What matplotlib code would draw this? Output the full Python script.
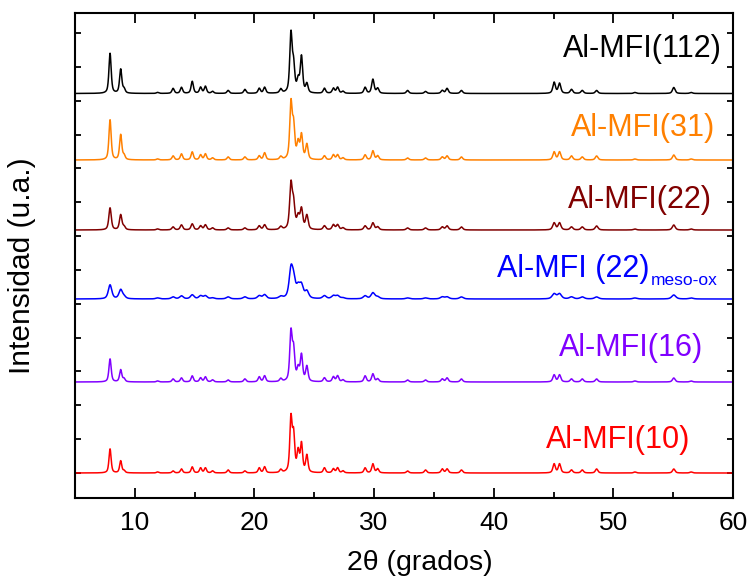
import numpy as np
import matplotlib
matplotlib.use("Agg")
import matplotlib.pyplot as plt
from matplotlib.ticker import MultipleLocator

plt.rcParams['font.family'] = ['Liberation Sans', 'DejaVu Sans']

# Reflection positions (2theta, degrees)
peak_pos = [7.93, 8.82, 9.1, 11.9, 13.2, 13.9, 14.8, 15.5, 15.9, 16.5, 17.8, 19.2,
            20.4, 20.85, 22.2, 23.05, 23.27, 23.65, 23.93, 24.38, 25.85, 26.6,
            26.95, 27.4, 29.25, 29.9, 30.3, 32.8, 34.3, 35.7, 36.1, 37.3, 45.05,
            45.5, 46.5, 47.4, 48.6, 51.8, 55.05, 56.5]

# Peak intensities (u.a.)
int_112 = [40, 24, 4, 1, 5, 6, 12, 6, 7, 2, 3, 4, 5, 6, 4, 58, 26, 12, 36, 9, 5, 5,
           6, 2, 6, 14, 5, 3, 2, 3, 5, 3, 11, 10, 4, 3, 3, 1, 6, 1]
int_31 = [40, 25, 4, 1, 4, 6, 8, 5, 6, 2, 3, 3, 4, 7, 3, 55, 32, 16, 24, 15, 4, 5,
          5, 2, 5, 9, 4, 2, 2, 3, 4, 3, 8, 8, 4, 3, 4, 1, 5, 1]
int_22 = [22, 15, 3, 1, 3, 5, 6, 4, 5, 2, 2, 2, 4, 5, 3, 44, 24, 12, 20, 14, 4, 5,
          5, 2, 4, 7, 3, 2, 2, 3, 4, 3, 7, 7, 3, 3, 4, 1, 5, 1]
int_22m = [14, 9, 2, 1, 2, 3, 4, 3, 3, 1, 2, 2, 3, 4, 2, 27, 16, 10, 12, 7, 3, 3,
           3, 1, 3, 6, 2, 1, 1, 2, 2, 2, 5, 5, 2, 2, 2, 1, 4, 1]
int_16 = [23, 12, 3, 1, 3, 4, 6, 4, 5, 2, 2, 3, 5, 6, 3, 48, 30, 12, 26, 15, 4, 5,
          6, 2, 6, 8, 3, 2, 2, 3, 4, 3, 7, 7, 3, 3, 3, 1, 4, 1]
int_10 = [24, 12, 2, 1, 2, 4, 6, 5, 5, 2, 3, 2, 5, 6, 3, 53, 36, 20, 28, 17, 5, 4,
          5, 2, 5, 9, 4, 2, 3, 4, 4, 3, 9, 9, 3, 3, 4, 1, 4, 1]

series_labels = ["Al-MFI(112)", "Al-MFI(31)", "Al-MFI(22)", "Al-MFI (22)", "Al-MFI(16)", "Al-MFI(10)"]
series_offsets = [379.5, 313, 243, 174, 91, 0]
series_fwhm = [0.22, 0.22, 0.24, 0.34, 0.22, 0.21]
series_colors = ["#000000", "#FF8000", "#800000", "#0000FF", "#8000FF", "#FF0000"]
series_int = [int_112, int_31, int_22, int_22m, int_16, int_10]

two_theta = np.linspace(5, 60, 5501)


def pattern(x, pos, inten, fwhm, eta=0.6):
    y = np.zeros_like(x)
    for p, h in zip(pos, inten):
        w = fwhm * (1 + 0.004 * (p - 5))
        hw = w / 2
        lor = 1.0 / (1 + ((x - p) / hw) ** 2)
        gau = np.exp(-np.log(2) * ((x - p) / hw) ** 2)
        y += h * (eta * lor + (1 - eta) * gau)
    return y


fig = plt.figure(figsize=(7.53, 5.82), dpi=100)
ax = fig.add_axes([75 / 753, 1 - 498 / 582, 658 / 753, 485 / 582])

for inten, off, fw, col in zip(series_int, series_offsets, series_fwhm, series_colors):
    ax.plot(two_theta, pattern(two_theta, peak_pos, inten, fw) + off, color=col, lw=1.1)

ax.set_xlim(5, 60)
ax.set_ylim(-25, 460)
ax.xaxis.set_major_locator(MultipleLocator(10))
ax.xaxis.set_minor_locator(MultipleLocator(5))
ax.yaxis.set_major_locator(MultipleLocator(33.85))
ax.set_yticklabels([])
ax.tick_params(axis='both', which='major', direction='in', length=7, width=1.3,
               top=True, right=True, labelsize=19)
ax.tick_params(axis='both', which='minor', direction='in', length=4, width=1.3,
               top=True, right=True)
ax.tick_params(axis='y', which='major', length=4)
ax.tick_params(axis='x', which='major', pad=9)
for s in ax.spines.values():
    s.set_linewidth(1.5)

ax.set_xlabel("2θ (grados)", fontsize=20.5)
ax.xaxis.set_label_coords(0.524, -0.108)
ax.set_ylabel("Intensidad (u.a.)", fontsize=21.5)
ax.yaxis.set_label_coords(-0.06, 0.48)

# sample labels
lab_x = [59.1, 58.5, 58.2, 53.0, 57.5, 56.4]
lab_y = [416, 337, 265, 196, 117, 25]
for txt, lx, ly, col in zip(series_labels, lab_x, lab_y, series_colors):
    t = ax.text(lx, ly, txt, color=col, fontsize=22, ha='right', va='baseline')
    if txt == "Al-MFI (22)":
        ax.annotate("meso-ox", xy=(1.0, 0.0), xycoords=t, xytext=(1, -3),
                    textcoords='offset points', color=col, fontsize=12.5,
                    ha='left', va='bottom')

fig.savefig("out.png", dpi=100)
